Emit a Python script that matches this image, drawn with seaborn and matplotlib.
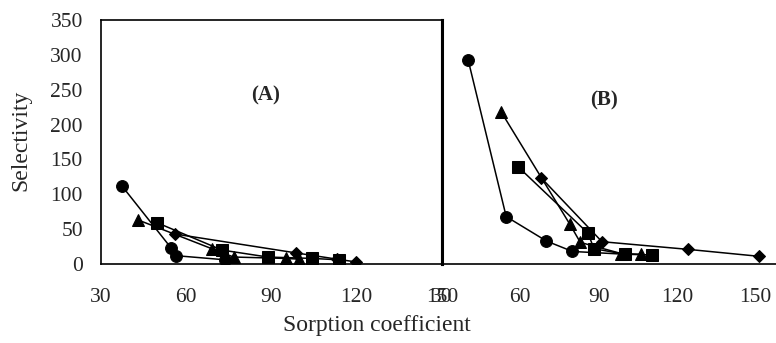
import matplotlib
matplotlib.use("Agg")
import matplotlib.pyplot as plt
import seaborn as sns
import pandas as pd

# Panel A data
a_circle_x = [37.4, 54.7, 56.3, 73.8]
a_circle_y = [112, 23, 12, 6]
a_triangle_x = [43.2, 69.0, 76.7, 95.0, 99.6]
a_triangle_y = [63, 22, 10, 8, 7]
a_square_x = [49.9, 72.6, 88.7, 104.4, 113.8]
a_square_y = [59, 20, 10, 8, 6]
a_diamond_x = [56.1, 98.5, 113.0, 119.7]
a_diamond_y = [43, 16, 7, 3]

# Panel B data
b_circle_x = [40.0, 54.6, 70.0, 80.0, 100.2]
b_circle_y = [293, 68, 33, 18, 14]
b_triangle_x = [52.7, 79.0, 83.0, 98.7, 106.3]
b_triangle_y = [218, 57, 31, 15, 14]
b_square_x = [59.3, 86.0, 88.2, 100.0, 110.4]
b_square_y = [139, 44, 22, 14, 13]
b_diamond_x = [67.9, 91.3, 124.3, 151.6]
b_diamond_y = [124, 32, 21, 11]

xticks = [30, 60, 90, 120, 150]
yticks = [0, 50, 100, 150, 200, 250, 300, 350]

sns.set_theme(style="white")
plt.rcParams['font.family'] = ['Liberation Serif', 'DejaVu Serif']

fig = plt.figure(figsize=(7.76, 3.43), dpi=100)
axA = fig.add_axes([0.130, 0.2303, 0.4396, 0.7114])
axB = fig.add_axes([0.5696, 0.2303, 0.4304, 0.7114])

def draw(ax, series):
    for xs, ys, mk, ms in series:
        df = pd.DataFrame({"x": xs, "y": ys})
        sns.lineplot(data=df, x="x", y="y", ax=ax, sort=False, color="black",
                     marker=mk, markersize=ms, markeredgecolor="black",
                     linewidth=1.1, legend=False)

draw(axA, [(a_circle_x, a_circle_y, "o", 8.5), (a_triangle_x, a_triangle_y, "^", 8.5),
           (a_square_x, a_square_y, "s", 8), (a_diamond_x, a_diamond_y, "D", 6.5)])
draw(axB, [(b_circle_x, b_circle_y, "o", 8.5), (b_triangle_x, b_triangle_y, "^", 8.5),
           (b_square_x, b_square_y, "s", 8), (b_diamond_x, b_diamond_y, "D", 6.5)])

for ax in (axA, axB):
    ax.set_ylim(0, 350)
    ax.set_xticks(xticks)
    ax.set_xticklabels([str(t) for t in xticks], fontsize=15.5)
    ax.set_xlabel("")
    ax.set_ylabel("")
    ax.tick_params(axis="x", direction="out", length=5, width=1, color="black", pad=12)
    ax.tick_params(axis="y", direction="out", length=4, width=1, color="black", pad=9)

axA.set_xlim(30, 150)
axB.set_xlim(30, 158)
axA.set_yticks(yticks)
axA.set_yticklabels([str(t) for t in yticks], fontsize=15.5)
axB.set_yticks(yticks)
axB.set_yticklabels([])
axB.tick_params(axis="y", length=2)

for s in axA.spines.values():
    s.set_color("black")
    s.set_linewidth(1.2)
axA.spines["right"].set_linewidth(2.2)
axB.spines["top"].set_visible(False)
axB.spines["right"].set_visible(False)
axB.spines["left"].set_color("black")
axB.spines["left"].set_linewidth(2.2)
axB.spines["bottom"].set_color("black")
axB.spines["bottom"].set_linewidth(1.2)

axA.text(87.9, 242, "(A)", fontsize=15, fontweight="bold", ha="center", va="center")
axB.text(92, 235, "(B)", fontsize=15, fontweight="bold", ha="center", va="center")

fig.text(0.027, 0.592, "Selectivity", rotation=90, fontsize=17, ha="center", va="center")
fig.text(0.486, 0.052, "Sorption coefficient", fontsize=17, ha="center", va="center")

fig.savefig("out.png", dpi=100)
